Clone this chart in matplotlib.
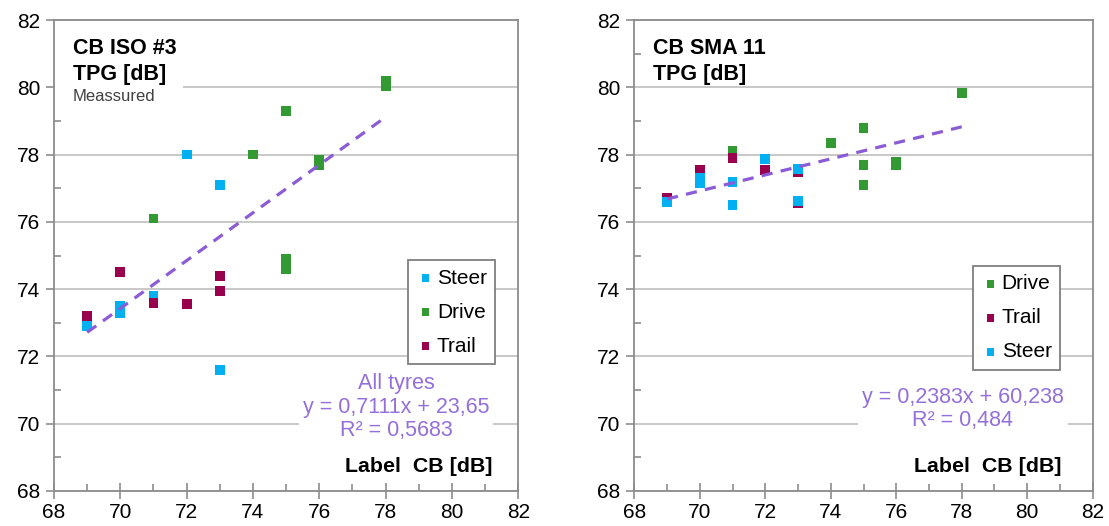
import matplotlib
matplotlib.use("Agg")
import matplotlib.pyplot as plt
import numpy as np
from matplotlib.patches import Rectangle
from matplotlib.ticker import MultipleLocator

plt.rcParams['font.family'] = ['Liberation Sans', 'DejaVu Sans']

# left chart: CB ISO #3
iso_steer_x = [69, 70, 70, 71, 72, 73, 73]
iso_steer_y = [72.9, 73.5, 73.3, 73.8, 78.0, 77.1, 71.6]
iso_drive_x = [71, 74, 75, 75, 75, 76, 76, 78, 78]
iso_drive_y = [76.1, 78.0, 79.3, 74.9, 74.6, 77.85, 77.7, 80.2, 80.05]
iso_trail_x = [69, 70, 71, 72, 73, 73]
iso_trail_y = [73.2, 74.5, 73.6, 73.55, 74.4, 73.95]
iso_fit = (0.7111, 23.65)
iso_eq = "All tyres\ny = 0,7111x + 23,65\nR² = 0,5683"

# right chart: CB SMA 11
sma_drive_x = [71, 74, 75, 75, 75, 76, 76, 78]
sma_drive_y = [78.1, 78.35, 78.8, 77.7, 77.1, 77.78, 77.7, 79.83]
sma_trail_x = [69, 70, 71, 72, 73, 73]
sma_trail_y = [76.7, 77.53, 77.9, 77.53, 77.47, 76.55]
sma_steer_x = [69, 70, 70, 71, 71, 72, 73, 73]
sma_steer_y = [76.6, 77.3, 77.15, 77.18, 76.5, 77.87, 77.57, 76.62]
sma_fit = (0.2383, 60.238)
sma_eq = "y = 0,2383x + 60,238\nR² = 0,484"

col = {'Steer': '#00B0F0', 'Drive': '#339933', 'Trail': '#99004D'}
trend_col = '#8B5CD6'
text_col = '#9370DB'
W, H = 1109, 526

fig = plt.figure(figsize=(W / 100, H / 100), dpi=100)


def px_axes(x0, x1, y0, y1):
    return fig.add_axes([x0 / W, 1 - y1 / H, (x1 - x0) / W, (y1 - y0) / H])


def style(ax):
    ax.set_xlim(68, 82)
    ax.set_ylim(68, 82)
    ax.xaxis.set_major_locator(MultipleLocator(2))
    ax.yaxis.set_major_locator(MultipleLocator(2))
    ax.xaxis.set_minor_locator(MultipleLocator(1))
    ax.yaxis.set_minor_locator(MultipleLocator(1))
    ax.set_axisbelow(True)
    ax.grid(True, axis='y', which='major', color='#c4c4c4', lw=1.3)
    for s in ax.spines.values():
        s.set_color('#8c8c8c')
        s.set_linewidth(1.3)
    ax.tick_params(axis='y', which='major', direction='out', length=6, width=1.2,
                   color='#8c8c8c', labelsize=15, pad=4)
    ax.tick_params(axis='x', which='major', direction='inout', length=12, width=1.2,
                   color='#8c8c8c', labelsize=15, pad=3)
    ax.tick_params(which='minor', direction='in', length=5, width=1.2, color='#8c8c8c')


def series(ax, x, y, name):
    ax.scatter(x, y, marker='s', s=50, color=col[name], label=name, zorder=3,
               edgecolors='none')


def trend(ax, xs, fit):
    xx = np.array([min(xs), max(xs)])
    ax.plot(xx, fit[0] * xx + fit[1], color=trend_col, lw=2.3,
            linestyle=(0, (3.5, 2.6)), zorder=4)


def legend(ax, x, y):
    leg = ax.legend(loc='upper right', bbox_to_anchor=(x, y), borderaxespad=0,
                    fancybox=False, framealpha=1, edgecolor='#7f7f7f',
                    fontsize=15, handletextpad=0.1, handlelength=0.9,
                    labelspacing=0.72, markerscale=0.75, borderpad=0.4)
    leg.get_frame().set_linewidth(1.3)


# left
ax1 = px_axes(54, 518.3, 20, 491)
style(ax1)
series(ax1, iso_steer_x, iso_steer_y, 'Steer')
series(ax1, iso_drive_x, iso_drive_y, 'Drive')
series(ax1, iso_trail_x, iso_trail_y, 'Trail')
trend(ax1, iso_steer_x + iso_drive_x + iso_trail_x, iso_fit)
legend(ax1, 0.95, 0.49)
ax1.add_patch(Rectangle((0, 0.83), 0.278, 0.13, transform=ax1.transAxes,
                        facecolor='white', edgecolor='none', zorder=1))
ax1.text(0.041, 0.962, "CB ISO #3\nTPG [dB]", transform=ax1.transAxes, ha='left',
         va='top', fontsize=15.5, fontweight='bold', linespacing=1.3, zorder=2)
ax1.text(0.041, 0.838, "Meassured", transform=ax1.transAxes, ha='left', va='center',
         fontsize=12, color='#404040', zorder=2)
ax1.text(0.7366, 0.178, iso_eq, transform=ax1.transAxes, ha='center', va='center',
         multialignment='center', fontsize=15.5, color=text_col, linespacing=1.15,
         bbox=dict(facecolor='white', edgecolor='none', pad=3), zorder=2)
ax1.text(0.9455, 0.053, "Label  CB [dB]", transform=ax1.transAxes, ha='right',
         va='center', fontsize=15.4, fontweight='bold')

# right
ax2 = px_axes(634.3, 1092.7, 20, 491)
style(ax2)
series(ax2, sma_drive_x, sma_drive_y, 'Drive')
series(ax2, sma_trail_x, sma_trail_y, 'Trail')
series(ax2, sma_steer_x, sma_steer_y, 'Steer')
trend(ax2, sma_drive_x + sma_trail_x + sma_steer_x, sma_fit)
legend(ax2, 0.9287, 0.4777)
ax2.text(0.041, 0.962, "CB SMA 11\nTPG [dB]", transform=ax2.transAxes, ha='left',
         va='top', fontsize=15.5, fontweight='bold', linespacing=1.3, zorder=2)
ax2.text(0.717, 0.174, sma_eq, transform=ax2.transAxes, ha='center', va='center',
         multialignment='center', fontsize=15.5, color=text_col, linespacing=1.15,
         bbox=dict(facecolor='white', edgecolor='none', pad=3), zorder=2)
ax2.text(0.932, 0.053, "Label  CB [dB]", transform=ax2.transAxes, ha='right',
         va='center', fontsize=15.4, fontweight='bold')

fig.savefig("out.png", dpi=100)
